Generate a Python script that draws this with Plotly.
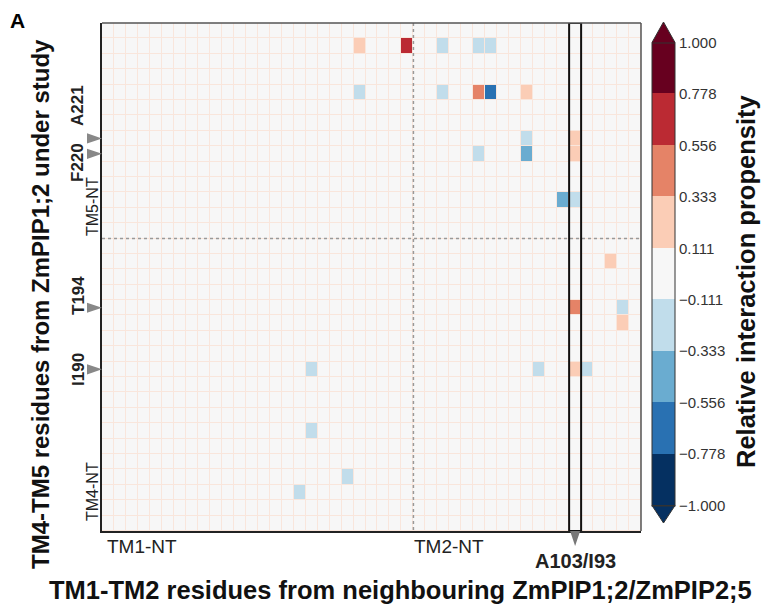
import numpy as np
import plotly.graph_objects as go

# ---------------- data ----------------
n_cols = 45          # TM1 (26 residues) + TM2 (19 residues) of neighbouring protomer
n_rows = 33          # TM5 (14 residues, top) + TM4 (19 residues, bottom)

# residue numbers on the y axis (top to bottom)
y_residues = list(range(228, 214, -1)) + list(range(198, 179, -1))

# non-zero interaction propensities: (row index from top, column index, value)
cell_rows = [1, 1, 1, 1, 1,
             4, 4, 4, 4, 4,
             7, 7,
             8, 8, 8,
             11, 11,
             15,
             18, 18,
             19,
             22, 22, 22, 22,
             26,
             29,
             30]
cell_cols = [21, 25, 28, 31, 32,
             21, 28, 31, 32, 35,
             35, 39,
             31, 35, 39,
             38, 39,
             42,
             39, 43,
             43,
             17, 36, 39, 40,
             17,
             20,
             16]
cell_vals = [0.2, 0.7, -0.2, -0.2, -0.2,
             -0.2, -0.2, 0.45, -0.65, 0.2,
             -0.2, 0.2,
             -0.2, -0.45, 0.2,
             -0.45, -0.2,
             0.2,
             0.45, -0.2,
             0.2,
             -0.2, -0.2, 0.2, -0.2,
             -0.2,
             -0.2,
             -0.2]

cbar_bounds = [1.0, 0.778, 0.556, 0.333, 0.111, -0.111, -0.333, -0.556, -0.778, -1.0]
cbar_labels = ["1.000", "0.778", "0.556", "0.333", "0.111",
               "\u22120.111", "\u22120.333", "\u22120.556", "\u22120.778", "\u22121.000"]
bin_colors = ['#053061', '#2971b2', '#6aacd0', '#c1ddeb', '#f7f7f7',
              '#fbcdb6', '#e58367', '#bb2a33', '#67001f']

x_seg_labels = ["TM1-NT", "TM2-NT"]
y_seg_labels = ["TM5-NT", "TM4-NT"]
tm2_start_col = 26
tm4_start_row = 14
highlight_col = 39
highlight_label = "A103/I93"
marked_residues = {"A221": 221, "F220": 220, "T194": 194, "I190": 190}

# ---------------- build matrix ----------------
z = np.zeros((n_rows, n_cols))
for r, c, v in zip(cell_rows, cell_cols, cell_vals):
    z[r, c] = v

colorscale = []
for i, col in enumerate(bin_colors):
    colorscale.append([i / 9, col])
    colorscale.append([(i + 1) / 9, col])

# ---------------- geometry helpers (pixels -> paper) ----------------
W, H = 761, 606
ML, MR, MT, MB = 102, 120, 23, 75
PW, PH = W - ML - MR, H - MT - MB


def px_x(px):
    return (px - ML) / PW


def px_y(py):
    return 1 - (py - MT) / PH


fig = go.Figure()
fig.add_trace(go.Heatmap(
    z=z, x=list(range(n_cols)), y=list(range(n_rows)),
    colorscale=colorscale, zmin=-1, zmax=1,
    xgap=1, ygap=1,
    colorbar=dict(
        x=px_x(652), xanchor='left', xpad=0,
        y=px_y(274), yanchor='middle', ypad=0,
        thickness=23, thicknessmode='pixels',
        len=463, lenmode='pixels',
        outlinewidth=1, outlinecolor='#333',
        tickvals=cbar_bounds, ticktext=cbar_labels,
        ticks='', ticklen=0,
        tickfont=dict(family='Liberation Sans, Arial', size=15, color='#333'),
    ),
    hoverinfo='skip',
))

shapes = []
annotations = []

# segment boundaries (dotted)
shapes.append(dict(type='line', xref='x', yref='y', x0=tm2_start_col - 0.5, x1=tm2_start_col - 0.5,
                   y0=-0.5, y1=n_rows - 0.5, line=dict(color='#999', width=1.5, dash='dot')))
shapes.append(dict(type='line', xref='x', yref='y', y0=tm4_start_row - 0.5, y1=tm4_start_row - 0.5,
                   x0=-0.5, x1=n_cols - 0.5, line=dict(color='#999', width=1.5, dash='dot')))
# highlighted column
shapes.append(dict(type='rect', xref='x', yref='y', x0=highlight_col - 0.5, x1=highlight_col + 0.5,
                   y0=-0.5, y1=n_rows - 0.5, line=dict(color='#111', width=2)))
# frame top/right
shapes.append(dict(type='line', xref='paper', yref='paper', x0=0, x1=1, y0=1, y1=1,
                   line=dict(color='#555', width=1.5)))
shapes.append(dict(type='line', xref='paper', yref='paper', x0=1, x1=1, y0=0, y1=1,
                   line=dict(color='#555', width=1.5)))

# arrow under highlighted column
tip = px_y(546)
shapes.append(dict(type='path', xref='x', yref='paper',
                   path=f"M {highlight_col - 0.42} 0 L {highlight_col + 0.42} 0 L {highlight_col} {tip} Z",
                   fillcolor='#777', line=dict(width=0)))

# arrows on left for marked residues
for name, res in marked_residues.items():
    row = y_residues.index(res)
    bx, tx = px_x(87), px_x(102)
    shapes.append(dict(type='path', xref='paper', yref='y',
                       path=f"M {bx} {row - 0.33} L {bx} {row + 0.33} L {tx} {row} Z",
                       fillcolor='#888', line=dict(width=0)))

# colorbar extension triangles
cx0, cx1 = px_x(652), px_x(675)
cmid = (cx0 + cx1) / 2
shapes.append(dict(type='path', xref='paper', yref='paper',
                   path=f"M {cx0} {px_y(42.5)} L {cx1} {px_y(42.5)} L {cmid} {px_y(22)} Z",
                   fillcolor=bin_colors[-1], line=dict(color='#333', width=1)))
shapes.append(dict(type='path', xref='paper', yref='paper',
                   path=f"M {cx0} {px_y(505.5)} L {cx1} {px_y(505.5)} L {cmid} {px_y(523)} Z",
                   fillcolor=bin_colors[0], line=dict(color='#333', width=1)))

FONT = 'Liberation Sans, Arial, sans-serif'

# x segment labels
annotations.append(dict(text=x_seg_labels[0], xref='paper', yref='paper', x=px_x(105), y=px_y(546),
                        xanchor='left', yanchor='middle', showarrow=False,
                        font=dict(family=FONT, size=19, color='#222')))
annotations.append(dict(text=x_seg_labels[1], xref='paper', yref='paper', x=px_x(412), y=px_y(546),
                        xanchor='left', yanchor='middle', showarrow=False,
                        font=dict(family=FONT, size=19, color='#222')))
annotations.append(dict(text=f"<b>{highlight_label}</b>", xref='x', yref='paper', x=highlight_col, y=px_y(561),
                        xanchor='center', yanchor='middle', showarrow=False,
                        font=dict(family=FONT, size=20, color='#222')))

# y segment labels (rotated)
annotations.append(dict(text=y_seg_labels[0], xref='paper', yref='paper', x=px_x(92), y=px_y(207),
                        xanchor='center', yanchor='middle', showarrow=False, textangle=-90,
                        font=dict(family=FONT, size=16, color='#222')))
annotations.append(dict(text=y_seg_labels[1], xref='paper', yref='paper', x=px_x(92), y=px_y(492),
                        xanchor='center', yanchor='middle', showarrow=False, textangle=-90,
                        font=dict(family=FONT, size=16, color='#222')))

# residue labels
res_label_pos = {"A221": 106, "F220": 163, "T194": 296, "I190": 370}
for name, py in res_label_pos.items():
    annotations.append(dict(text=f"<b>{name}</b>", xref='paper', yref='paper', x=px_x(78), y=px_y(py),
                            xanchor='center', yanchor='middle', showarrow=False, textangle=-90,
                            font=dict(family=FONT, size=17, color='#222')))

# titles
annotations.append(dict(text="<b>TM1-TM2 residues from neighbouring ZmPIP1;2/ZmPIP2;5</b>",
                        xref='paper', yref='paper', x=px_x(400), y=px_y(590),
                        xanchor='center', yanchor='middle', showarrow=False,
                        font=dict(family=FONT, size=25.5, color='#111')))
annotations.append(dict(text="<b>TM4-TM5 residues from ZmPIP1;2 under study</b>",
                        xref='paper', yref='paper', x=px_x(40), y=px_y(304),
                        xanchor='center', yanchor='middle', showarrow=False, textangle=-90,
                        font=dict(family=FONT, size=24, color='#111')))
annotations.append(dict(text="<b>Relative interaction propensity</b>",
                        xref='paper', yref='paper', x=px_x(746), y=px_y(282),
                        xanchor='center', yanchor='middle', showarrow=False, textangle=-90,
                        font=dict(family=FONT, size=25.5, color='#111')))
annotations.append(dict(text="<b>A</b>", xref='paper', yref='paper', x=px_x(17), y=px_y(20),
                        xanchor='center', yanchor='middle', showarrow=False,
                        font=dict(family=FONT, size=21, color='#000')))

fig.update_layout(
    width=W, height=H,
    margin=dict(l=ML, r=MR, t=MT, b=MB, pad=0),
    paper_bgcolor='white',
    plot_bgcolor='#f9e6dc',
    font=dict(family=FONT),
    xaxis=dict(range=[-0.5, n_cols - 0.5], showticklabels=False, ticks='', showgrid=False,
               zeroline=False, showline=True, linecolor='#222', linewidth=2),
    yaxis=dict(range=[n_rows - 0.5, -0.5], showticklabels=False, ticks='', showgrid=False,
               zeroline=False, showline=True, linecolor='#222', linewidth=2),
    shapes=shapes,
    annotations=annotations,
)

fig.write_html("out.html", config={'displayModeBar': False},
               post_script="document.body.style.margin='0px';document.body.style.overflow='hidden';")
